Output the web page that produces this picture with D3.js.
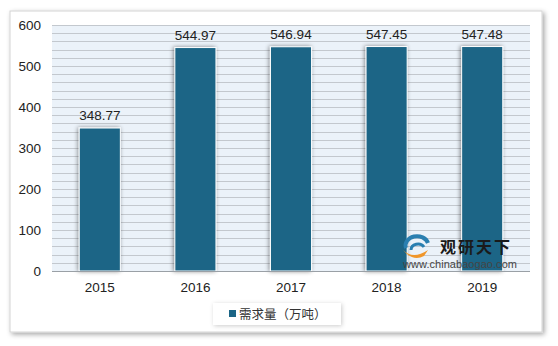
<!DOCTYPE html>
<html>
<head>
<meta charset="utf-8">
<script src="https://cdn.jsdelivr.net/npm/d3@7"></script>
<style>
  body { margin: 0; background: #fff; }
  svg { display: block; font-family: "Liberation Sans", Arial, sans-serif; }
</style>
</head>
<body>
<div id="chart"></div>
<script>
const width = 558;
const height = 346;
var margin = {top: 25, bottom: 75, left: 52, right: 28};

// ********* DATA *********
const years = ["2015", "2016", "2017", "2018", "2019"];
const demand = [348.77, 544.97, 546.94, 547.45, 547.48];
const yTicks = [0, 100, 200, 300, 400, 500, 600];
const seriesName = "需求量（万吨）";

const barColor = "#1b6586";

var svg = d3.select("#chart").append("svg")
  .attr("width", width)
  .attr("height", height);

// ******** FILTERS *********
var defs = svg.append("defs");
var cardShadow = defs.append("filter").attr("id", "cardShadow")
  .attr("x", "-5%").attr("y", "-5%").attr("width", "115%").attr("height", "115%");
cardShadow.append("feDropShadow")
  .attr("dx", 2).attr("dy", 2).attr("stdDeviation", 2.5)
  .attr("flood-color", "#000").attr("flood-opacity", 0.35);

var barShadow = defs.append("filter").attr("id", "barShadow")
  .attr("x", "-40%").attr("y", "-10%").attr("width", "180%").attr("height", "120%");
barShadow.append("feDropShadow")
  .attr("dx", -1).attr("dy", 0).attr("stdDeviation", 2.2)
  .attr("flood-color", "#000").attr("flood-opacity", 0.45);

var legendShadow = defs.append("filter").attr("id", "legendShadow")
  .attr("x", "-10%").attr("y", "-30%").attr("width", "130%").attr("height", "180%");
legendShadow.append("feDropShadow")
  .attr("dx", 1).attr("dy", 1).attr("stdDeviation", 2)
  .attr("flood-color", "#000").attr("flood-opacity", 0.2);

// ******** CARD *********
svg.append("rect")
  .attr("x", 10).attr("y", 11)
  .attr("width", 532).attr("height", 321)
  .attr("fill", "#fff")
  .attr("stroke", "#d4d4d4")
  .attr("filter", "url(#cardShadow)");

// ******** SCALES *********
var x_scale = d3.scaleBand()
  .domain(years)
  .range([margin.left, width - margin.right])
  .paddingInner(0.57)
  .paddingOuter(0.285);

var y_scale = d3.scaleLinear()
  .domain([0, 600])
  .range([height - margin.bottom, margin.top]);

// ******** PLOT BACKGROUND & GRID *********
svg.append("rect")
  .attr("x", margin.left).attr("y", margin.top)
  .attr("width", width - margin.right - margin.left)
  .attr("height", y_scale(0) - margin.top)
  .attr("fill", "#ebf2f9");

svg.append("g")
  .selectAll("line")
  .data(d3.range(20, 601, 20))
  .enter().append("line")
  .attr("x1", margin.left).attr("x2", width - margin.right)
  .attr("y1", d => Math.round(y_scale(d)) + 0.5)
  .attr("y2", d => Math.round(y_scale(d)) + 0.5)
  .attr("stroke", "#c3c8ce")
  .attr("stroke-width", 1);

// ******** BARS *********
svg.append("g")
  .selectAll("rect")
  .data(demand)
  .enter().append("rect")
  .attr("x", (d, i) => x_scale(years[i]))
  .attr("y", d => y_scale(d))
  .attr("width", x_scale.bandwidth())
  .attr("height", d => y_scale(0) - y_scale(d))
  .attr("fill", barColor)
  .attr("stroke", "#fff")
  .attr("stroke-width", 1)
  .attr("filter", "url(#barShadow)");

// value labels
svg.append("g")
  .selectAll("text")
  .data(demand)
  .enter().append("text")
  .attr("x", (d, i) => x_scale(years[i]) + x_scale.bandwidth() / 2)
  .attr("y", d => y_scale(d) - 8)
  .attr("text-anchor", "middle")
  .style("font-size", "13.5px")
  .style("fill", "#222")
  .text(d => d.toFixed(2));

// ******** AXES *********
svg.append("line")
  .attr("x1", margin.left).attr("x2", width - margin.right)
  .attr("y1", y_scale(0) + 0.5).attr("y2", y_scale(0) + 0.5)
  .attr("stroke", "#9aa0a6");

var y_axis = d3.axisLeft(y_scale).tickValues(yTicks).tickSize(0).tickPadding(11);
svg.append("g")
  .attr("transform", `translate(${margin.left}, 0)`)
  .call(y_axis)
  .call(g => g.select(".domain").remove())
  .selectAll("text")
  .style("font-size", "13.5px")
  .style("font-family", "Liberation Sans, Arial, sans-serif")
  .style("fill", "#222");

var x_axis = d3.axisBottom(x_scale).tickSize(0).tickPadding(11);
svg.append("g")
  .attr("transform", `translate(0, ${y_scale(0)})`)
  .call(x_axis)
  .call(g => g.select(".domain").remove())
  .selectAll("text")
  .style("font-size", "13.5px")
  .style("font-family", "Liberation Sans, Arial, sans-serif")
  .style("fill", "#222");

// ******** WATERMARK *********
var wm = svg.append("g").attr("transform", "translate(403, 238)");
wm.append("path")
  .attr("d", "M3,10 A11,9 0 0 1 25,5")
  .attr("fill", "none").attr("stroke", "#2a7fb0").attr("stroke-width", 4);
wm.append("path")
  .attr("d", "M8,12 A7,6 0 0 1 21,9")
  .attr("fill", "none").attr("stroke", "#2a7fb0").attr("stroke-width", 3);
wm.append("path")
  .attr("d", "M0,12 Q10,22 25,12 L21,18 Q10,24 0,12 Z")
  .attr("fill", "#f0962a");
wm.append("text")
  .attr("x", 37).attr("y", 15)
  .style("font-family", "Noto Sans CJK SC")
  .style("font-weight", "bold")
  .style("font-size", "16px")
  .style("letter-spacing", "2px")
  .style("fill", "#1a1a1a")
  .text("观研天下");
wm.append("text")
  .attr("x", 0).attr("y", 30)
  .attr("textLength", 114)
  .style("font-size", "11px")
  .style("fill", "#444")
  .text("www.chinabaogao.com");

// ******** LEGEND *********
var legend = svg.append("g").attr("transform", "translate(213, 303)");
legend.append("rect")
  .attr("width", 128).attr("height", 22)
  .attr("fill", "#fff")
  .attr("filter", "url(#legendShadow)");
legend.append("rect")
  .attr("x", 16).attr("y", 7)
  .attr("width", 7).attr("height", 7)
  .attr("fill", barColor);
legend.append("text")
  .attr("x", 26).attr("y", 15.5)
  .style("font-family", "Noto Sans CJK SC")
  .style("font-size", "12.5px")
  .style("fill", "#333")
  .text(seriesName);
</script>
</body>
</html>
